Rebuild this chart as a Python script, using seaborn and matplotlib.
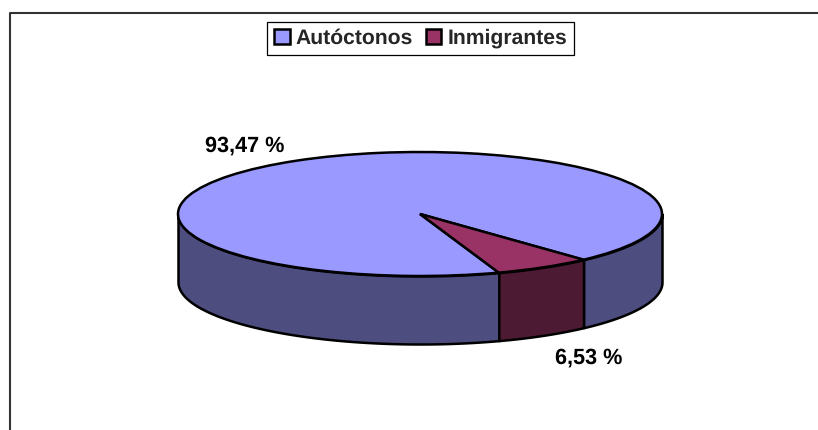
import numpy as np
import matplotlib
matplotlib.use('Agg')
import matplotlib.pyplot as plt
import seaborn as sns

# Datos
categorias = ['Autóctonos', 'Inmigrantes']
porcentajes = [93.47, 6.53]
etiquetas = ['93,47 %', '6,53 %']

colores_top = ['#9999FF', '#993366']
colores_lado = ['#4D4D80', '#4D1A33']

sns.set_theme(style='white')
plt.rcParams['font.family'] = ['Liberation Sans', 'DejaVu Sans']
plt.rcParams['text.hinting'] = 'no_hinting'

W, H = 818, 430
cx, cy = 420, 214    # centro de la elipse en pixeles
rx, ry = 242, 62
prof = 68 / ry       # altura del cilindro en unidades de ry
giro = -47.5

fig = plt.figure(figsize=(W / 100, H / 100), dpi=100, facecolor='white')
ax = fig.add_axes([0, 0, 1, 1])

# Tapa de la tarta
wedges, _ = ax.pie(porcentajes, colors=colores_top, startangle=giro, radius=1,
                   wedgeprops={'edgecolor': 'black', 'linewidth': 1.8, 'zorder': 3})
ax.set_aspect('auto')
ax.set_xlim(-cx / rx, (W - cx) / rx)
ax.set_ylim((cy - H) / ry, cy / ry)

# Pared lateral: solo la mitad de abajo se ve
for w, col in zip(wedges, colores_lado):
    for desp in (0, 360, -360):
        a = max(w.theta1 + desp, 180)
        b = min(w.theta2 + desp, 360)
        if b > a:
            t = np.radians(np.linspace(a, b, 120))
            ax.fill_between(np.cos(t), np.sin(t), np.sin(t) - prof, color=col,
                            edgecolor='black', linewidth=1.8, zorder=2)

# Etiquetas
ax.text((245 - cx) / rx, (cy - 145.5) / ry, etiquetas[0], fontsize=15.6, fontweight='bold',
        ha='center', va='center', color='black')
ax.text((589 - cx) / rx, (cy - 357.5) / ry, etiquetas[1], fontsize=15.6, fontweight='bold',
        ha='center', va='center', color='black')

# Leyenda
handles = [plt.Rectangle((0, 0), 1, 1, facecolor=c, edgecolor='black', linewidth=1.8) for c in colores_top]
ley = fig.legend(handles, categorias, loc='center', bbox_to_anchor=(420.5 / W, 1 - 38.5 / H),
                 ncol=2, frameon=True, fancybox=False, edgecolor='black', framealpha=1,
                 prop={'weight': 'bold', 'size': 15.2}, handlelength=0.75, handleheight=0.75,
                 handletextpad=0.28, columnspacing=0.6, borderpad=0.33, borderaxespad=0)
ley.get_frame().set_linewidth(0.9)

# Marco exterior
fig.add_artist(plt.Line2D([10 / W, 10 / W, 1], [0, 1 - 13 / H, 1 - 13 / H], color='#333333', linewidth=1.5))

fig.savefig('out.png', dpi=100)
